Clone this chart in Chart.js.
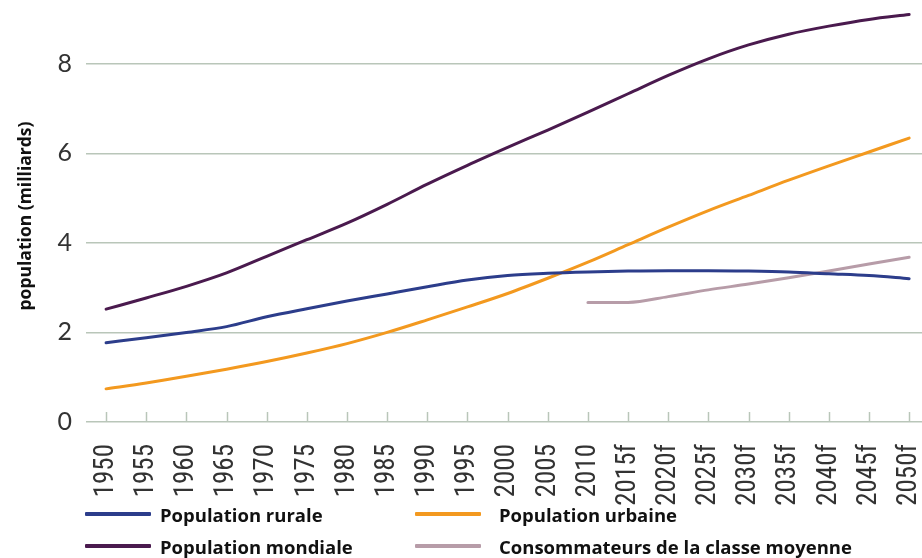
<!DOCTYPE html>
<html>
<head>
<meta charset="utf-8">
<script src="https://cdn.jsdelivr.net/npm/chart.js@4/dist/chart.umd.min.js"></script>
<style>
  html, body { margin: 0; padding: 0; background: #fff; }
  #wrap { position: relative; width: 922px; height: 558px; }
  #c { position: absolute; left: 0; top: 0; }
  .lg { position: absolute; display: flex; align-items: center; font-family: "Open Sans", sans-serif; font-weight: 700; font-size: 18.5px; color: #111; white-space: nowrap; }
  .lg .sw { display: inline-block; width: 66px; height: 3.5px; margin-right: 9px; border-radius: 1px; }
</style>
</head>
<body>
<div id="wrap">
  <canvas id="c" width="922" height="558"></canvas>
</div>
<script>
const years = ['1950','1955','1960','1965','1970','1975','1980','1985','1990','1995','2000','2005','2010','2015f','2020f','2025f','2030f','2035f','2040f','2045f','2050f'];
const rurale   = [1.77,1.88,2.00,2.13,2.35,2.53,2.70,2.86,3.02,3.17,3.27,3.32,3.35,3.37,3.38,3.38,3.37,3.35,3.31,3.27,3.20];
const urbaine  = [0.74,0.87,1.02,1.18,1.35,1.54,1.75,2.00,2.28,2.57,2.87,3.21,3.57,3.96,4.35,4.72,5.06,5.40,5.72,6.03,6.34];
const mondiale = [2.52,2.77,3.03,3.33,3.70,4.07,4.44,4.86,5.31,5.73,6.13,6.52,6.92,7.33,7.74,8.11,8.42,8.66,8.84,8.99,9.10];
const classeMoyenne = [null,null,null,null,null,null,null,null,null,null,null,null,2.67,2.67,2.80,2.95,3.08,3.22,3.37,3.53,3.68];
const yTicks = [0,2,4,6,8];

const GRID = '#b9c6b9';
const toXY = arr => arr.map((v, i) => ({ x: i, y: v }));

const tickMarks = {
  id: 'tickMarks',
  beforeDatasetsDraw(chart) {
    const xs = chart.scales.x, ys = chart.scales.y;
    const ctx = chart.ctx;
    const y0 = ys.getPixelForValue(0);
    ctx.save();
    ctx.strokeStyle = GRID;
    ctx.lineWidth = 1.5;
    years.forEach((_, i) => {
      const px = Math.round(xs.getPixelForValue(i)) + 0.5;
      ctx.beginPath();
      ctx.moveTo(px, y0);
      ctx.lineTo(px, y0 - 10);
      ctx.stroke();
    });
    ctx.restore();
  }
};

const zeroPad = scale => { scale.paddingLeft = 0; scale.paddingRight = 0; scale.paddingTop = 0; scale.paddingBottom = 0; };

const chart = new Chart(document.getElementById('c'), {
  type: 'line',
  data: {
    datasets: [
      { label: 'Population rurale', data: toXY(rurale), borderColor: '#2c3d8b', backgroundColor: '#2c3d8b' },
      { label: 'Population urbaine', data: toXY(urbaine), borderColor: '#f3991f', backgroundColor: '#f3991f' },
      { label: 'Population mondiale', data: toXY(mondiale), borderColor: '#4a1a4e', backgroundColor: '#4a1a4e' },
      { label: 'Consommateurs de la classe moyenne', data: toXY(classeMoyenne), borderColor: '#b79ca8', backgroundColor: '#b79ca8' }
    ]
  },
  options: {
    responsive: false,
    animation: false,
    spanGaps: false,
    layout: { padding: { top: 10, left: 0, right: 0, bottom: 0 } },
    elements: {
      point: { radius: 0, hoverRadius: 0 },
      line: { borderWidth: 3, tension: 0.35, cubicInterpolationMode: 'monotone', borderCapStyle: 'round' }
    },
    plugins: { legend: { display: false }, tooltip: { enabled: false } },
    scales: {
      x: {
        type: 'linear',
        min: -0.5,
        max: 20.32,
        grid: { display: false },
        border: { display: false },
        afterBuildTicks: axis => { axis.ticks = years.map((_, i) => ({ value: i })); },
        afterFit: scale => { scale.height = 136; zeroPad(scale); },
        ticks: {
          autoSkip: false,
          minRotation: 90,
          maxRotation: 90,
          padding: 14,
          color: '#333',
          font: { family: '"Roboto Condensed", "DejaVu Sans Condensed", sans-serif', size: 27 },
          callback: v => years[Math.round(v)]
        }
      },
      y: {
        min: 0,
        max: 9.2,
        afterBuildTicks: axis => { axis.ticks = yTicks.map(v => ({ value: v })); },
        afterFit: scale => { scale.width = 86; zeroPad(scale); },
        grid: { color: GRID, lineWidth: 1.5, drawTicks: false },
        border: { display: false },
        ticks: {
          padding: 14,
          color: '#333',
          font: { family: 'Lato, "Open Sans", sans-serif', size: 25 }
        },
        title: {
          display: true,
          text: 'population (milliards)',
          color: '#111',
          font: { family: '"Open Sans", sans-serif', weight: 'bold', size: 17.5 },
          padding: { top: 16, bottom: 0 }
        }
      }
    }
  },
  plugins: [tickMarks]
});

// HTML legend built from the chart's datasets (2 x 2 grid)
const legendPos = [
  { left: 85, top: 514 },
  { left: 415, top: 514 },
  { left: 85, top: 546 },
  { left: 415, top: 546 }
];
const wrap = document.getElementById('wrap');
chart.data.datasets.forEach((ds, i) => {
  const d = document.createElement('div');
  d.className = 'lg';
  d.style.left = legendPos[i].left + 'px';
  d.style.top = (legendPos[i].top - 12) + 'px';
  d.style.height = '24px';
  const sw = document.createElement('span');
  sw.className = 'sw';
  sw.style.background = ds.borderColor;
  if (i % 2 === 1) sw.style.marginRight = '18px';
  const t = document.createElement('span');
  t.textContent = ds.label;
  d.appendChild(sw);
  d.appendChild(t);
  wrap.appendChild(d);
});
</script>
</body>
</html>
